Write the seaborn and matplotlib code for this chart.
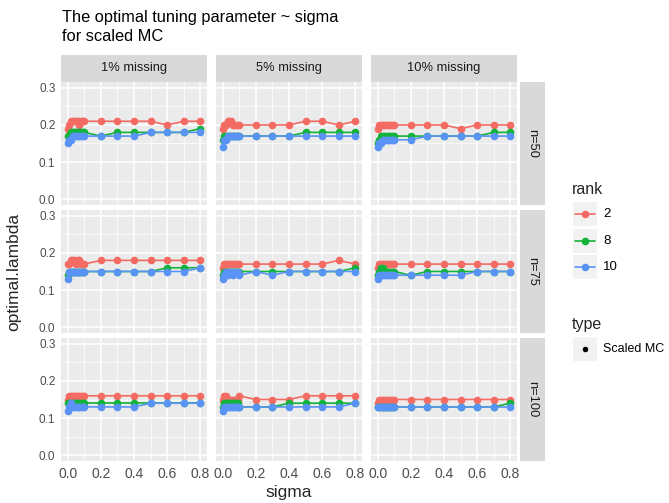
import matplotlib
matplotlib.use("Agg")
import matplotlib.pyplot as plt
from matplotlib import patches
from matplotlib.lines import Line2D
from matplotlib.ticker import MultipleLocator
import seaborn as sns
import pandas as pd

# --- data ---
sigma = [0.001, 0.01, 0.02, 0.03, 0.04, 0.05, 0.06, 0.07, 0.08, 0.09, 0.1,
         0.2, 0.3, 0.4, 0.5, 0.6, 0.7, 0.8]
ranks = [2, 8, 10]
missing_labels = ["1% missing", "5% missing", "10% missing"]
n_labels = ["n=50", "n=75", "n=100"]

n50_1pct = {
    2:  [0.19, 0.20, 0.21, 0.21, 0.21, 0.21, 0.21, 0.20, 0.21, 0.21, 0.21, 0.21, 0.21, 0.21, 0.21, 0.20, 0.21, 0.21],
    8:  [0.17, 0.17, 0.18, 0.18, 0.18, 0.18, 0.18, 0.18, 0.18, 0.18, 0.18, 0.17, 0.18, 0.18, 0.18, 0.18, 0.18, 0.19],
    10: [0.15, 0.16, 0.16, 0.17, 0.17, 0.17, 0.17, 0.17, 0.17, 0.17, 0.17, 0.17, 0.17, 0.17, 0.18, 0.18, 0.18, 0.18],
}
n50_5pct = {
    2:  [0.19, 0.20, 0.20, 0.21, 0.21, 0.21, 0.20, 0.20, 0.20, 0.20, 0.20, 0.20, 0.20, 0.20, 0.21, 0.21, 0.20, 0.21],
    8:  [0.16, 0.17, 0.17, 0.17, 0.17, 0.17, 0.17, 0.17, 0.17, 0.17, 0.17, 0.17, 0.17, 0.17, 0.18, 0.18, 0.18, 0.18],
    10: [0.14, 0.16, 0.16, 0.17, 0.17, 0.17, 0.17, 0.17, 0.17, 0.17, 0.17, 0.17, 0.17, 0.17, 0.17, 0.17, 0.17, 0.17],
}
n50_10pct = {
    2:  [0.19, 0.20, 0.20, 0.20, 0.20, 0.20, 0.20, 0.20, 0.20, 0.20, 0.20, 0.20, 0.20, 0.20, 0.19, 0.20, 0.20, 0.20],
    8:  [0.15, 0.16, 0.17, 0.17, 0.17, 0.17, 0.17, 0.17, 0.17, 0.17, 0.17, 0.17, 0.17, 0.17, 0.17, 0.17, 0.18, 0.18],
    10: [0.14, 0.15, 0.15, 0.16, 0.16, 0.16, 0.16, 0.16, 0.16, 0.16, 0.16, 0.16, 0.17, 0.17, 0.17, 0.17, 0.17, 0.17],
}
n75_1pct = {
    2:  [0.17, 0.17, 0.18, 0.18, 0.18, 0.17, 0.18, 0.18, 0.17, 0.17, 0.17, 0.18, 0.18, 0.18, 0.18, 0.18, 0.18, 0.18],
    8:  [0.14, 0.15, 0.15, 0.15, 0.15, 0.15, 0.15, 0.15, 0.15, 0.15, 0.15, 0.15, 0.15, 0.15, 0.15, 0.16, 0.16, 0.16],
    10: [0.13, 0.15, 0.15, 0.15, 0.15, 0.15, 0.15, 0.15, 0.15, 0.15, 0.15, 0.15, 0.15, 0.15, 0.15, 0.15, 0.15, 0.16],
}
n75_5pct = {
    2:  [0.16, 0.17, 0.17, 0.17, 0.17, 0.17, 0.17, 0.17, 0.17, 0.17, 0.17, 0.17, 0.17, 0.17, 0.17, 0.17, 0.18, 0.17],
    8:  [0.14, 0.15, 0.15, 0.15, 0.15, 0.15, 0.15, 0.15, 0.15, 0.15, 0.15, 0.15, 0.15, 0.15, 0.15, 0.15, 0.15, 0.16],
    10: [0.13, 0.14, 0.15, 0.14, 0.15, 0.15, 0.14, 0.15, 0.15, 0.15, 0.14, 0.15, 0.14, 0.15, 0.15, 0.15, 0.15, 0.15],
}
n75_10pct = {
    2:  [0.16, 0.17, 0.17, 0.17, 0.17, 0.17, 0.17, 0.17, 0.17, 0.17, 0.17, 0.17, 0.17, 0.17, 0.17, 0.17, 0.17, 0.17],
    8:  [0.14, 0.15, 0.16, 0.16, 0.15, 0.15, 0.15, 0.15, 0.15, 0.15, 0.15, 0.14, 0.15, 0.15, 0.15, 0.15, 0.15, 0.15],
    10: [0.13, 0.14, 0.14, 0.14, 0.14, 0.14, 0.14, 0.14, 0.14, 0.14, 0.14, 0.14, 0.14, 0.14, 0.14, 0.15, 0.15, 0.15],
}
n100_1pct = {
    2:  [0.15, 0.16, 0.16, 0.16, 0.16, 0.16, 0.16, 0.16, 0.16, 0.16, 0.16, 0.16, 0.16, 0.16, 0.16, 0.16, 0.16, 0.16],
    8:  [0.14, 0.14, 0.14, 0.14, 0.14, 0.14, 0.14, 0.14, 0.14, 0.14, 0.14, 0.14, 0.14, 0.14, 0.14, 0.14, 0.14, 0.14],
    10: [0.12, 0.13, 0.14, 0.13, 0.13, 0.13, 0.13, 0.13, 0.13, 0.13, 0.13, 0.13, 0.13, 0.13, 0.14, 0.14, 0.14, 0.14],
}
n100_5pct = {
    2:  [0.15, 0.16, 0.16, 0.15, 0.15, 0.15, 0.15, 0.15, 0.15, 0.15, 0.16, 0.15, 0.15, 0.15, 0.16, 0.16, 0.16, 0.16],
    8:  [0.13, 0.14, 0.14, 0.14, 0.14, 0.14, 0.14, 0.14, 0.14, 0.14, 0.13, 0.13, 0.13, 0.14, 0.14, 0.14, 0.14, 0.14],
    10: [0.12, 0.13, 0.13, 0.13, 0.13, 0.13, 0.13, 0.13, 0.13, 0.13, 0.13, 0.13, 0.13, 0.13, 0.13, 0.13, 0.13, 0.14],
}
n100_10pct = {
    2:  [0.14, 0.15, 0.15, 0.15, 0.15, 0.15, 0.15, 0.15, 0.15, 0.15, 0.15, 0.15, 0.15, 0.15, 0.15, 0.15, 0.15, 0.15],
    8:  [0.13, 0.13, 0.13, 0.13, 0.13, 0.13, 0.13, 0.13, 0.13, 0.13, 0.13, 0.13, 0.13, 0.13, 0.13, 0.13, 0.13, 0.14],
    10: [0.13, 0.13, 0.13, 0.13, 0.13, 0.13, 0.13, 0.13, 0.13, 0.13, 0.13, 0.13, 0.13, 0.13, 0.13, 0.13, 0.13, 0.13],
}

panels = [
    [n50_1pct, n50_5pct, n50_10pct],
    [n75_1pct, n75_5pct, n75_10pct],
    [n100_1pct, n100_5pct, n100_10pct],
]

rows = []
for i, n_lab in enumerate(n_labels):
    for j, m_lab in enumerate(missing_labels):
        for r in ranks:
            for s, v in zip(sigma, panels[i][j][r]):
                rows.append({"n": n_lab, "missing": m_lab, "rank": str(r),
                             "sigma": s, "optimal.lambda": v})
df = pd.DataFrame(rows)

# ggplot-ish look
sns.set_style("white")
plt.rcParams["font.family"] = ["Liberation Sans", "DejaVu Sans"]
palette = {"2": "#F36B62", "8": "#13B23A", "10": "#5A93F6"}
PANEL_BG = "#EBEBEB"
STRIP_BG = "#D9D9D9"
TICK_COL = "#4D4D4D"

W, H = 669, 503
fig = plt.figure(figsize=(W / 100, H / 100), dpi=100)


def px_box(left, top, width, height):
    return [left / W, 1 - (top + height) / H, width / W, height / H]


col_left = [61, 216, 371]
col_w = 146
row_top = [82, 210, 338]
row_h = 123
strip_h = 27
rstrip_w = 25

for i, n_lab in enumerate(n_labels):
    for j, m_lab in enumerate(missing_labels):
        ax = fig.add_axes(px_box(col_left[j], row_top[i], col_w, row_h))
        ax.set_facecolor(PANEL_BG)
        sub = df[(df["n"] == n_lab) & (df["missing"] == m_lab)]
        sns.lineplot(data=sub, x="sigma", y="optimal.lambda", hue="rank",
                     hue_order=["2", "8", "10"], palette=palette, marker="o",
                     markersize=5.5, markeredgewidth=0, linewidth=1.2,
                     legend=False, ax=ax, zorder=3)
        ax.set_xlim(-0.04, 0.84)
        ax.set_ylim(-0.016, 0.316)
        ax.xaxis.set_major_locator(MultipleLocator(0.2))
        ax.xaxis.set_minor_locator(MultipleLocator(0.1))
        ax.yaxis.set_major_locator(MultipleLocator(0.1))
        ax.yaxis.set_minor_locator(MultipleLocator(0.05))
        ax.grid(which="major", color="white", linewidth=1.1, zorder=0)
        ax.grid(which="minor", color="white", linewidth=0.5, zorder=0)
        ax.set_axisbelow(True)
        for sp in ax.spines.values():
            sp.set_visible(False)
        ax.tick_params(which="major", length=2.5, width=0.8, color="#333333",
                       labelsize=8.5, labelcolor=TICK_COL, pad=1.5)
        ax.tick_params(which="minor", length=0)
        ax.set_xlabel("")
        ax.set_ylabel("")
        if j == 0:
            ax.set_yticks([0.0, 0.1, 0.2, 0.3])
            ax.set_yticklabels(["0.0", "0.1", "0.2", "0.3"])
        else:
            ax.tick_params(axis="y", labelleft=False)
        if i == 2:
            ax.set_xticks([0.0, 0.2, 0.4, 0.6, 0.8])
            ax.set_xticklabels(["0.0", "0.2", "0.4", "0.6", "0.8"])
            ax.tick_params(axis="x", labelsize=10)
        else:
            ax.tick_params(axis="x", labelbottom=False)

        # top strips
        if i == 0:
            fig.patches.append(patches.Rectangle(
                (col_left[j] / W, 1 - (row_top[0]) / H), col_w / W, strip_h / H,
                transform=fig.transFigure, facecolor=STRIP_BG, edgecolor="none"))
            fig.text((col_left[j] + col_w / 2) / W, 1 - (row_top[0] - strip_h / 2) / H,
                     m_lab, ha="center", va="center", fontsize=9.3, color="#1A1A1A")
        # right strips
        if j == 2:
            sx = col_left[2] + col_w + 3
            fig.patches.append(patches.Rectangle(
                (sx / W, 1 - (row_top[i] + row_h) / H), rstrip_w / W, row_h / H,
                transform=fig.transFigure, facecolor=STRIP_BG, edgecolor="none"))
            fig.text((sx + rstrip_w / 2) / W, 1 - (row_top[i] + row_h / 2) / H,
                     n_lab, ha="center", va="center", rotation=-90,
                     fontsize=9.3, color="#1A1A1A")

# titles
fig.text(62 / W, 1 - 10 / H, "The optimal tuning parameter ~ sigma\nfor scaled MC",
         ha="left", va="top", fontsize=11.8, color="black", linespacing=1.3)
fig.text((col_left[0] + col_left[2] + col_w) / 2 / W, 1 - 493 / H, "sigma",
         ha="center", va="center", fontsize=12.5)
fig.text(14 / W, 1 - 272 / H, "optimal.lambda", ha="center", va="center",
         rotation=90, fontsize=12.5)

# legend (drawn ggplot-style with grey key boxes)
leg = fig.add_axes([0, 0, 1, 1], facecolor="none")
leg.set_xlim(0, W)
leg.set_ylim(H, 0)
leg.axis("off")
lx = 572
leg.text(lx, 190, "rank", ha="left", va="center", fontsize=11.5)
for k, r in enumerate(ranks):
    ky = 214 + k * 26.5
    leg.add_patch(patches.Rectangle((lx + 1, ky - 12), 24, 24,
                                    facecolor="#F2F2F2", edgecolor="none"))
    leg.add_line(Line2D([lx + 3, lx + 23], [ky, ky], color=palette[str(r)], linewidth=1.2))
    leg.plot([lx + 13], [ky], marker="o", color=palette[str(r)], markersize=5.5,
             markeredgewidth=0)
    leg.text(lx + 31, ky, str(r), ha="left", va="center", fontsize=9.5, color="black")
leg.text(lx, 324, "type", ha="left", va="center", fontsize=11.5)
ky = 349
leg.add_patch(patches.Rectangle((lx + 1, ky - 12), 24, 24,
                                facecolor="#F2F2F2", edgecolor="none"))
leg.plot([lx + 13], [ky], marker="o", color="black", markersize=4, markeredgewidth=0)
leg.text(lx + 31, ky, "Scaled MC", ha="left", va="center", fontsize=9, color="black")

fig.savefig("out.png", dpi=100)
